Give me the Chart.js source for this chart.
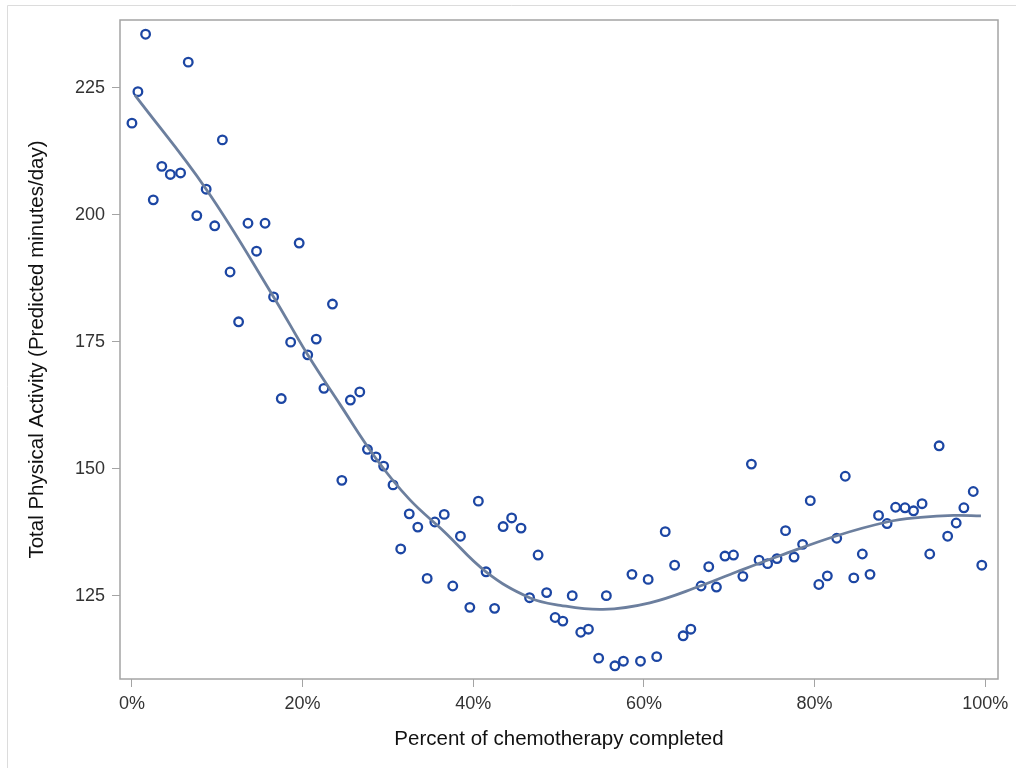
<!DOCTYPE html>
<html>
<head>
  <title>Physical activity vs chemotherapy completed</title>
  <script src="https://cdn.jsdelivr.net/npm/chart.js"></script>
  <style>
    body {
      margin: 0;
      background: #fff;
    }
  </style>
</head>
<body>
  <canvas id="myChart" width="1016" height="768"></canvas>

  <script>
    // Observed points (percent completed, minutes/day)
    var pctCompleted = [
      0.0, 0.7, 1.6, 2.5, 3.5, 4.5, 5.7, 6.6, 7.6, 8.7,
      9.7, 10.6, 11.5, 12.5, 13.6, 14.6, 15.6, 16.6, 17.5, 18.6,
      19.6, 20.6, 21.6, 22.5, 23.5, 24.6, 25.6, 26.7, 27.6, 28.6,
      29.5, 30.6, 31.5, 32.5, 33.5, 34.6, 35.5, 36.6, 37.6, 38.5,
      39.6, 40.6, 41.5, 42.5, 43.5, 44.5, 45.6, 46.6, 47.6, 48.6,
      49.6, 50.5, 51.6, 52.6, 53.5, 54.7, 55.6, 56.6, 57.6, 58.6,
      59.6, 60.5, 61.5, 62.5, 63.6, 64.6, 65.5, 66.7, 67.6, 68.5,
      69.5, 70.5, 71.6, 72.6, 73.5, 74.5, 75.6, 76.6, 77.6, 78.6,
      79.5, 80.5, 81.5, 82.6, 83.6, 84.6, 85.6, 86.5, 87.5, 88.5,
      89.5, 90.6, 91.6, 92.6, 93.5, 94.6, 95.6, 96.6, 97.5, 98.6,
      99.6
    ];
    var activity = [
      218.0, 224.2, 235.5, 202.9, 209.5, 207.9, 208.2, 230.0, 199.8, 205.0,
      197.8, 214.7, 188.7, 178.9, 198.3, 192.8, 198.3, 183.8, 163.8, 174.9,
      194.4, 172.4, 175.5, 165.8, 182.4, 147.7, 163.5, 165.1, 153.8, 152.3,
      150.5, 146.8, 134.2, 141.1, 138.5, 128.4, 139.5, 141.0, 126.9, 136.7,
      122.7, 143.6, 129.7, 122.5, 138.6, 140.3, 138.3, 124.6, 133.0, 125.6,
      120.7, 120.0, 125.0, 117.8, 118.4, 112.7, 125.0, 111.2, 112.1, 129.2,
      112.1, 128.2, 113.0, 137.6, 131.0, 117.1, 118.4, 126.9, 130.7, 126.7,
      132.8, 133.0, 128.8, 150.9, 132.0, 131.3, 132.3, 137.8, 132.6, 135.1,
      143.7, 127.2, 128.9, 136.3, 148.5, 128.5, 133.2, 129.2, 140.8, 139.2,
      142.4, 142.3, 141.7, 143.1, 133.2, 154.5, 136.7, 139.3, 142.3, 145.5,
      131.0
    ];

    // Smooth fit curve
    var fitPct = [0.35, 8.7, 16.6, 20.6, 24.4, 28.6, 32.5, 36.6, 41.5,
                  46.6, 50.2, 55.2, 60.7, 66.6, 70.9, 76.0, 82.6,
                  88.5, 92.4, 96.3, 99.5];
    var fitActivity = [223.5, 205.0, 183.8, 172.4, 162.6, 152.0, 144.0, 137.6, 129.7,
                       124.6, 123.1, 122.3, 123.6, 126.9, 129.7, 132.9, 136.8,
                       139.5, 140.4, 140.8, 140.7];

    var xTicks = [0, 20, 40, 60, 80, 100];
    var yTicks = [125, 150, 175, 200, 225];

    var fontFamily = "'Liberation Sans', Arial, sans-serif";
    var frameColor = '#a4a4a4';

    // frame round the plot area and the light outer border
    var framePlugin = {
      id: 'frame',
      beforeDraw: function(chart) {
        var c = chart.ctx;
        c.save();
        c.fillStyle = '#fff';
        c.fillRect(0, 0, chart.width, chart.height);
        c.strokeStyle = '#dcdcdc';
        c.lineWidth = 1;
        c.beginPath();
        c.moveTo(7.5, chart.height);
        c.lineTo(7.5, 5.5);
        c.lineTo(chart.width, 5.5);
        c.stroke();
        c.restore();
      },
      afterDatasetsDraw: function(chart) {
        var a = chart.chartArea;
        var c = chart.ctx;
        c.save();
        c.strokeStyle = frameColor;
        c.lineWidth = 1.5;
        c.strokeRect(a.left, a.top, a.right - a.left, a.bottom - a.top);
        c.restore();
      }
    };

    var ctx = document.getElementById('myChart').getContext('2d');
    var myChart = new Chart(ctx, {
      type: 'scatter',
      data: {
        datasets: [{
          label: 'Fit',
          data: fitPct.map(function(x, i) { return { x: x, y: fitActivity[i] }; }),
          showLine: true,
          borderColor: '#6c7f9e',
          borderWidth: 2.8,
          pointRadius: 0,
          tension: 0.4,
          order: 0
        }, {
          label: 'Observed',
          data: pctCompleted.map(function(x, i) { return { x: x, y: activity[i] }; }),
          showLine: false,
          pointStyle: 'circle',
          pointRadius: 4.3,
          pointBorderWidth: 2.3,
          borderColor: '#1c46a3',
          pointBorderColor: '#1c46a3',
          pointBackgroundColor: '#ffffff',
          order: 1
        }]
      },
      options: {
        responsive: false,
        animation: false,
        clip: false,
        layout: {
          padding: { left: 0, top: 20, right: 18, bottom: 0 }
        },
        plugins: {
          legend: { display: false },
          tooltip: { enabled: false }
        },
        scales: {
          x: {
            type: 'linear',
            min: -1.4,
            max: 101.5,
            afterBuildTicks: function(scale) {
              scale.ticks = xTicks.map(function(v) { return { value: v }; });
            },
            afterFit: function(scale) { scale.height = 89; },
            grid: {
              display: true,
              drawOnChartArea: false,
              drawTicks: true,
              tickLength: 8,
              color: frameColor
            },
            border: { display: false },
            ticks: {
              padding: 6,
              color: '#333',
              font: { family: fontFamily, size: 18 }
            ,
              callback: function(value) { return value + '%'; }
            },
            title: {
              display: true,
              text: 'Percent of chemotherapy completed',
              color: '#111',
              font: { family: fontFamily, size: 20.5 },
              padding: { top: 0, bottom: 16 }
            }
          },
          y: {
            type: 'linear',
            min: 108.6,
            max: 238.3,
            afterBuildTicks: function(scale) {
              scale.ticks = yTicks.map(function(v) { return { value: v }; });
            },
            afterFit: function(scale) { scale.width = 120; },
            grid: {
              display: true,
              drawOnChartArea: false,
              drawTicks: true,
              tickLength: 8,
              color: frameColor
            },
            border: { display: false },
            ticks: {
              padding: 7,
              color: '#333',
              font: { family: fontFamily, size: 18 }
            },
            title: {
              display: true,
              text: 'Total Physical Activity (Predicted minutes/day)',
              color: '#111',
              font: { family: fontFamily, size: 20.5 },
              padding: { top: 25, bottom: 0 }
            }
          }
        }
      },
      plugins: [framePlugin]
    });
  </script>
</body>
</html>
